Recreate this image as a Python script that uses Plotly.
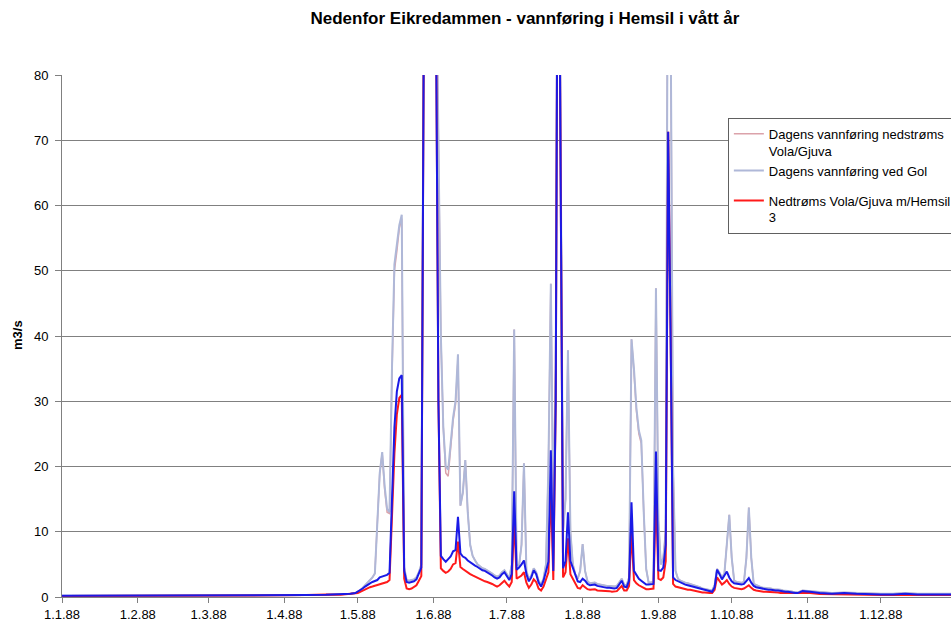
import pandas as pd
import plotly.graph_objects as go

# ---------------- data (day offsets from 1 Jan 1988) ----------------
winter_days = [0, 10, 20, 31, 45, 60, 75, 91, 100, 108, 114, 118]
summer_days = list(range(120, 302))
late_days = [303, 306, 310, 315, 320, 325, 330, 335, 340, 345, 350, 355, 360, 365]
day_of_year = winter_days + summer_days + late_days

# Dagens vannføring nedstrøms Vola/Gjuva (pink)
pink_vals = [
    0.2, 0.2, 0.25, 0.2, 0.25, 0.2, 0.25, 0.3, 0.3, 0.35, 0.4, 0.5,
    0.6, 0.8, 1.0, 1.4, 1.8, 2.2, 2.6, 3.0, 3.6, 12.0,
    19.0, 22.0, 16.5, 13.0, 12.8, 34.0, 50.0, 53.0, 56.5, 58.0,
    4.5, 2.6, 2.5, 2.6, 2.7, 3.0, 3.8, 5.0, 90, 120,
    135, 128, 115, 100, 70, 40, 26, 19.0, 18.5, 23.0,
    27.0, 29.5, 36.5, 14.0, 16.0, 21.0, 13.0, 8.0, 6.3, 5.6,
    5.0, 4.7, 4.4, 4.3, 4.1, 3.9, 3.6, 3.3, 3.1, 3.3,
    3.8, 4.1, 3.5, 2.9, 5.0, 41.0, 5.0, 4.8, 8.0, 20.5,
    4.0, 2.7, 3.3, 4.4, 3.8, 2.5, 1.9, 2.8, 5.0, 20.0,
    48.0, 12.0, 35.0, 135, 70, 10.0, 15.0, 37.8, 10.0, 5.0,
    3.5, 2.8, 4.0, 8.1, 4.0, 2.4, 2.1, 2.1, 2.2, 2.0,
    1.9, 1.8, 1.8, 1.7, 1.7, 1.6, 1.6, 1.7, 2.3, 2.8,
    1.9, 1.8, 3.0, 39.5, 34.5, 28.5, 25.0, 23.5, 13.0, 4.3,
    2.2, 2.3, 2.3, 47.3, 11.8, 5.0, 6.0, 10.0, 120, 90,
    20.0, 4.0, 2.8, 2.5, 2.3, 2.2, 2.1, 2.0, 1.9, 1.8,
    1.6, 1.5, 1.3, 1.2, 1.1, 1.0, 1.0, 1.8, 4.3, 3.7,
    3.0, 3.6, 8.0, 12.6, 6.0, 2.5, 2.3, 2.2, 2.2, 2.3,
    6.0, 13.7, 6.0, 2.0, 1.8, 1.6, 1.5, 1.4, 1.4, 1.3,
    1.3, 1.2, 1.2, 1.1, 1.1, 1.0, 1.0, 0.9, 0.9, 0.8,
    0.8, 0.7,
    1.0, 0.9, 0.7, 0.6, 0.7, 0.6, 0.5, 0.5, 0.5, 0.6, 0.5, 0.5, 0.5, 0.5,
]

# Dagens vannføring ved Gol (grey-blue)
gol_vals = [
    0.2, 0.2, 0.25, 0.2, 0.25, 0.2, 0.25, 0.3, 0.3, 0.35, 0.4, 0.5,
    0.6, 0.8, 1.0, 1.4, 1.8, 2.2, 2.6, 3.0, 3.6, 12.0,
    19.0, 22.2, 17.0, 13.5, 13.0, 35.0, 51.0, 54.0, 57.0, 58.6,
    4.5, 2.6, 2.5, 2.6, 2.7, 3.0, 3.8, 5.0, 90, 120,
    135, 128, 115, 100, 70, 40, 26, 20.0, 19.5, 24.0,
    27.5, 30.0, 37.2, 14.0, 16.0, 21.0, 13.0, 8.0, 6.3, 5.6,
    5.0, 4.7, 4.4, 4.3, 4.1, 3.9, 3.6, 3.3, 3.1, 3.3,
    3.8, 4.1, 3.5, 2.9, 5.0, 41.0, 5.0, 4.8, 8.0, 20.5,
    4.0, 2.7, 3.3, 4.4, 3.8, 2.5, 1.9, 2.8, 5.0, 20.0,
    48.0, 12.0, 35.0, 135, 70, 10.0, 15.0, 37.8, 10.0, 5.0,
    3.5, 2.8, 4.0, 8.1, 4.0, 2.4, 2.1, 2.1, 2.2, 2.0,
    1.9, 1.8, 1.8, 1.7, 1.7, 1.6, 1.6, 1.7, 2.3, 2.8,
    1.9, 1.8, 3.0, 39.5, 35.0, 29.0, 25.5, 24.0, 13.0, 4.3,
    2.2, 2.3, 2.3, 47.3, 11.8, 5.0, 6.0, 10.0, 120, 90,
    20.0, 4.0, 2.8, 2.5, 2.3, 2.2, 2.1, 2.0, 1.9, 1.8,
    1.6, 1.5, 1.3, 1.2, 1.1, 1.0, 1.0, 1.8, 4.3, 3.7,
    3.0, 3.6, 8.0, 12.6, 6.0, 2.5, 2.3, 2.2, 2.2, 2.3,
    6.0, 13.7, 6.0, 2.0, 1.8, 1.6, 1.5, 1.4, 1.4, 1.3,
    1.3, 1.2, 1.2, 1.1, 1.1, 1.0, 1.0, 0.9, 0.9, 0.8,
    0.8, 0.7,
    1.0, 0.9, 0.7, 0.6, 0.7, 0.6, 0.5, 0.5, 0.5, 0.6, 0.5, 0.5, 0.5, 0.5,
]

# Nedtrøms Vola/Gjuva m/Hemsil 3 (red)
red_vals = [
    0.15, 0.15, 0.2, 0.15, 0.2, 0.15, 0.2, 0.25, 0.3, 0.4, 0.35, 0.45,
    0.5, 0.6, 0.8, 1.0, 1.2, 1.3, 1.5, 1.6, 1.7, 1.9,
    2.0, 2.0, 2.2, 2.3, 2.6, 12.0, 22.0, 28.0, 30.5, 31.0,
    2.8, 1.3, 1.2, 1.3, 1.5, 1.8, 2.5, 3.2, 85, 110,
    125, 118, 105, 90, 30, 4.4, 4.0, 3.7, 3.9, 4.3,
    5.0, 5.2, 8.5, 4.6, 4.3, 4.0, 3.7, 3.5, 3.3, 3.1,
    2.9, 2.7, 2.5, 2.4, 2.3, 2.2, 2.0, 1.8, 1.6, 1.8,
    2.2, 2.5, 2.0, 1.6, 2.3, 12.0, 2.8, 3.0, 3.3, 3.8,
    2.2, 1.4, 1.9, 2.7, 2.3, 1.3, 1.0, 1.6, 2.6, 3.8,
    17.0, 2.6, 30, 130, 65, 3.0, 3.8, 9.0, 3.5, 2.8,
    2.0, 1.4, 1.3, 1.8, 1.5, 1.2, 1.1, 1.1, 1.2, 1.0,
    1.0, 0.9, 0.9, 0.9, 0.9, 0.8, 0.8, 0.9, 1.3, 1.7,
    1.0, 1.0, 1.7, 10.0, 2.6, 2.1, 1.8, 1.6, 1.4, 1.2,
    1.2, 1.3, 1.3, 16.0, 2.8, 2.6, 3.0, 5.5, 71.3, 40.0,
    2.0, 1.6, 1.5, 1.3, 1.2, 1.2, 1.1, 1.1, 1.0, 1.0,
    0.9, 0.8, 0.7, 0.7, 0.6, 0.6, 0.6, 1.1, 3.0, 2.4,
    1.9, 2.2, 2.6, 2.0, 1.6, 1.4, 1.3, 1.2, 1.2, 1.3,
    1.5, 1.8, 1.4, 1.1, 1.0, 0.9, 0.9, 0.8, 0.8, 0.8,
    0.7, 0.7, 0.7, 0.7, 0.6, 0.6, 0.6, 0.5, 0.5, 0.5,
    0.5, 0.5,
    0.6, 0.6, 0.45, 0.4, 0.45, 0.4, 0.3, 0.3, 0.3, 0.35, 0.3, 0.3, 0.3, 0.3,
]

# blue series (not named in the visible legend)
blue_vals = [
    0.2, 0.2, 0.25, 0.2, 0.25, 0.2, 0.25, 0.3, 0.3, 0.35, 0.4, 0.5,
    0.6, 0.8, 1.0, 1.3, 1.6, 1.9, 2.1, 2.3, 2.4, 2.6,
    3.0, 3.1, 3.2, 3.4, 3.7, 15.0, 26.0, 31.5, 33.5, 34.0,
    4.0, 2.3, 2.2, 2.3, 2.4, 2.7, 3.5, 4.5, 85, 110,
    125, 118, 105, 90, 30, 6.3, 5.8, 5.4, 5.8, 6.2,
    7.0, 7.2, 12.3, 6.7, 6.2, 6.0, 5.6, 5.3, 5.1, 4.8,
    4.6, 4.3, 4.1, 4.0, 3.8, 3.6, 3.3, 3.0, 2.8, 3.0,
    3.5, 3.8, 3.2, 2.6, 3.5, 16.2, 4.2, 4.5, 5.0, 5.6,
    3.5, 2.4, 3.0, 4.1, 3.5, 2.2, 1.6, 2.5, 3.9, 5.4,
    22.5, 4.0, 30, 130, 65, 4.4, 5.5, 13.0, 5.5, 4.4,
    3.2, 2.4, 2.3, 2.8, 2.5, 2.0, 1.8, 1.8, 1.9, 1.7,
    1.6, 1.5, 1.5, 1.4, 1.4, 1.3, 1.3, 1.4, 2.0, 2.5,
    1.6, 1.5, 2.5, 14.5, 4.0, 3.3, 2.8, 2.5, 2.2, 1.9,
    1.9, 2.0, 2.0, 22.3, 4.1, 4.0, 4.5, 8.0, 71.3, 40.0,
    3.0, 2.6, 2.4, 2.2, 2.0, 1.9, 1.8, 1.7, 1.6, 1.5,
    1.3, 1.2, 1.1, 1.0, 0.9, 0.8, 0.8, 1.5, 4.2, 3.5,
    2.7, 3.3, 3.9, 3.0, 2.4, 2.1, 2.0, 1.9, 1.9, 2.0,
    2.4, 2.9, 2.2, 1.7, 1.5, 1.4, 1.3, 1.2, 1.2, 1.1,
    1.1, 1.0, 1.0, 1.0, 0.9, 0.9, 0.8, 0.8, 0.7, 0.7,
    0.6, 0.6,
    0.9, 0.8, 0.6, 0.5, 0.6, 0.5, 0.4, 0.4, 0.4, 0.5, 0.4, 0.4, 0.4, 0.4,
]

tick_dates = ["1988-01-01", "1988-02-01", "1988-03-01", "1988-04-01", "1988-05-01",
              "1988-06-01", "1988-07-01", "1988-08-01", "1988-09-01", "1988-10-01",
              "1988-11-01", "1988-12-01"]
tick_labels = ["1.1.88", "1.2.88", "1.3.88", "1.4.88", "1.5.88", "1.6.88",
               "1.7.88", "1.8.88", "1.9.88", "1.10.88", "1.11.88", "1.12.88"]

dates = pd.Timestamp("1988-01-01") + pd.to_timedelta(day_of_year, unit="D")

FONT = "Liberation Sans, Arial, sans-serif"

fig = go.Figure()
fig.add_trace(go.Scatter(x=dates, y=pink_vals, mode="lines",
                         name="Dagens vannføring nedstrøms<br>Vola/Gjuva",
                         line=dict(color="#dba2aa", width=1.5), legendgroup="a"))
fig.add_trace(go.Scatter(x=dates, y=gol_vals, mode="lines",
                         name="Dagens vannføring ved Gol",
                         line=dict(color="#afb8d8", width=2), legendgroup="a"))
fig.add_trace(go.Scatter(x=dates, y=red_vals, mode="lines",
                         name="Nedtrøms Vola/Gjuva m/Hemsil<br>3",
                         line=dict(color="#ff1a1a", width=2), legendgroup="b"))
fig.add_trace(go.Scatter(x=dates, y=blue_vals, mode="lines",
                         name="Nedstrøms Vola/Gjuva m/Hemsil 3 ved Gol",
                         line=dict(color="#1a1ae6", width=2), showlegend=False))

fig.update_layout(
    width=951, height=624,
    margin=dict(l=62, r=0, t=75, b=27, autoexpand=False),
    paper_bgcolor="white", plot_bgcolor="white",
    font=dict(family=FONT, size=12, color="black"),
    title=dict(text="<b>Nedenfor Eikredammen - vannføring i Hemsil i vått år</b>",
               x=0.552, xref="container", xanchor="center",
               y=0.971, yref="container", yanchor="middle",
               font=dict(family=FONT, size=17, color="black")),
    legend=dict(x=0.749, y=0.918, xanchor="left", yanchor="top",
                bgcolor="white", bordercolor="#606060", borderwidth=1,
                font=dict(family=FONT, size=13, color="black"),
                valign="top", traceorder="grouped", tracegroupgap=10,
                itemwidth=30),
    showlegend=True,
)
fig.update_xaxes(type="date", range=["1988-01-01", "1988-12-29 17:00"],
                 tickmode="array", tickvals=tick_dates, ticktext=tick_labels,
                 ticks="outside", ticklen=5, tickcolor="#808080",
                 showline=True, linecolor="#808080", linewidth=1,
                 showgrid=False, zeroline=False,
                 tickfont=dict(family=FONT, size=13, color="black"))
fig.update_yaxes(range=[0, 80], dtick=10, tick0=0,
                 ticks="outside", ticklen=6, tickcolor="#808080",
                 showline=True, linecolor="#808080", linewidth=1,
                 showgrid=True, gridcolor="#808080", gridwidth=1,
                 zeroline=False, ticklabelstandoff=4,
                 tickfont=dict(family=FONT, size=13, color="black"))
fig.add_annotation(text="<b>m3/s</b>", textangle=-90, xref="paper", yref="paper",
                   x=-0.0495, y=0.502, xanchor="center", yanchor="middle",
                   showarrow=False, font=dict(family=FONT, size=13, color="black"))

fig.write_html("out.html")
